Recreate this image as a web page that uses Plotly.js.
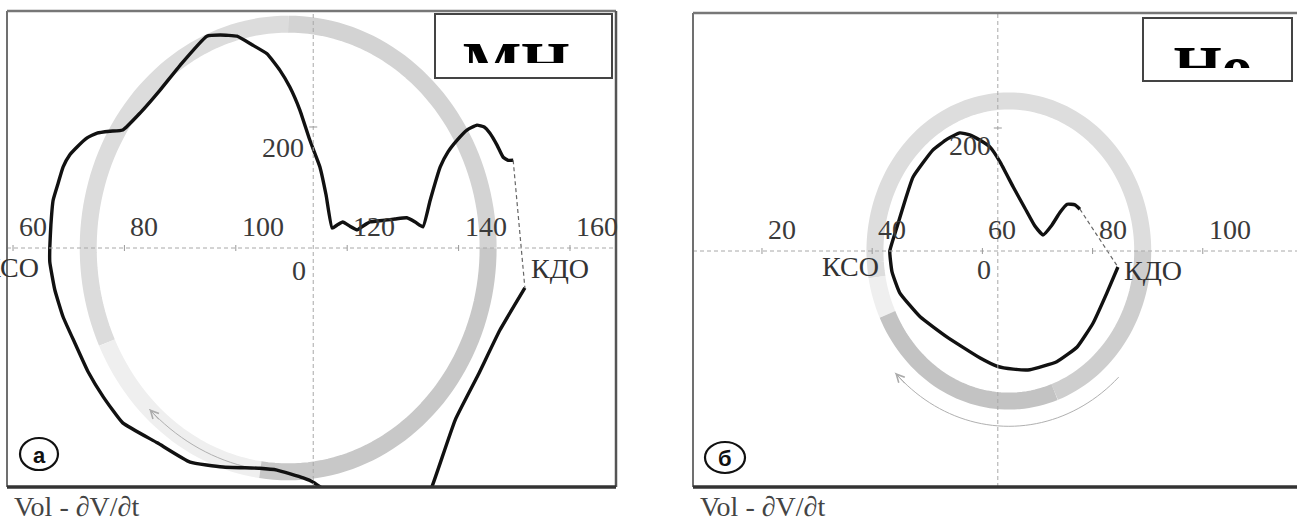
<!DOCTYPE html>
<html><head><meta charset="utf-8">
<script src="https://cdn.plot.ly/plotly-3.0.1.min.js"></script>
<style>html,body{margin:0;padding:0;background:#fff;overflow:hidden}#chart{width:1297px;height:523px}</style>
</head><body><div id="chart"></div>
<script>
// ---- data (volume, dV/dt) ----
const volA = [151.9,147.4,143.5,139.4,135.2,131.3,125.9,119.6,113.9,112.1,107.4,104.3,97.7,91.8,85.9,79.7,76.2,73.5,71.1,69.0,67.5,66.6,66.6,66.8,67.2,68.1,69.0,70.2,71.5,73.3,75.1,77.4,79.7,82.8,86.4,90.0,94.8,97.2,100.2,102.9,105.6,107.9,109.7,111.5,113.3,115.1,116.2,117.3,118.2,119.2,120.5,121.8,122.8,124.1,126.8,128.6,130.7,132.2,133.6,134.9,136.7,138.1,139.7,141.5,143.3,144.6,145.6,146.9,148.0,148.9,149.8];
const dvdtA = [-66,-136,-210,-284,-395,-474,-491,-425,-387,-380,-367,-364,-362,-354,-322,-289,-246,-205,-157,-114,-69,-23,0,38,79,107,134,154,167,182,190,193,195,223,261,302,350,352,350,336,321,294,266,228,178,134,88,33,38,43,36,30,36,43,46,48,50,43,35,79,134,159,178,195,203,200,190,170,150,145,145];
const volB = [84.6,82.6,80.1,77.2,73.5,68.6,65.6,62.6,59.6,53.6,48.7,45.0,43.6,43.2,44.5,46.0,47.4,51.0,53.6,55.9,57.7,59.6,61.4,63.2,65.6,67.7,69.5,71.0,72.6,74.1,75.4,76.8,77.7];
const dvdtB = [-26,-68,-117,-156,-180,-193,-192,-187,-174,-140,-107,-68,-34,0,39,83,120,164,182,192,189,180,169,145,104,70,41,26,42,63,76,75,68];
const xTicksA = [60,80,100,120,140,160];
const xTicksB = [20,40,60,80,100];
const yTickVals = [0,200];
const crossVolA = 113.9, crossVolB = 62.8;
const labelA = 'МН', labelB = 'Но';
const panelLetters = ['а','б'];
const axisLabel = 'Vol - ∂V/∂t';
const ksoText = 'КСО', kdoText = 'КДО';

const W = 1297, H = 523;
const fx = px => px / W, fy = py => 1 - py / H;
const serif = 'Liberation Serif, Times New Roman, serif';

function arcPath(cx, cy, rx, ry, a0, a1) {
  const n = Math.max(2, Math.ceil(Math.abs(a1 - a0) / 2));
  let s = '';
  for (let i = 0; i <= n; i++) {
    const a = (a0 + (a1 - a0) * i / n) * Math.PI / 180;
    s += (i ? 'L' : 'M') + (cx + rx * Math.cos(a)).toFixed(3) + ',' + (cy + ry * Math.sin(a)).toFixed(3);
  }
  return s;
}

const panels = [
  {xa:'x', ya:'y', vol:volA, dv:dvdtA, ticks:xTicksA, cross:crossVolA,
   ring:{cx:109.4, cy:0, rx:35.9, ry:370, segs:[[0,90,'#d3d3d3'],[90,205,'#dcdcdc'],[205,262,'#efefef'],[262,360,'#c8c8c8']]},
   arrow:{rx:35.9, ry:370, a0:226, a1:265},
   y200:{xs:-7, ys:-3}, y0:{xs:-5, ys:-5},
   kso:{xs:-9, ys:-19}, kdo:{xs:4, ys:-20},
   frameSides:['l','t','r','b']},
  {xa:'x2', ya:'y2', vol:volB, dv:dvdtB, ticks:xTicksB, cross:crossVolB,
   ring:{cx:64.8, cy:0, rx:24.3, ry:244, segs:[[0,190,'#dddddd'],[190,205,'#efefef'],[205,290,'#c3c3c3'],[290,360,'#cecece']]},
   arrow:{rx:28.7, ry:285, a0:224, a1:314},
   y200:{xs:-5, ys:0}, y0:{xs:-5, ys:-1},
   kso:{xs:-9, ys:-15}, kdo:{xs:4, ys:-19},
   frameSides:['l','t','b']}
];

const traces = [];
const shapes = [];
const annotations = [];

panels.forEach((p, k) => {
  const n = p.vol.length;
  traces.push({x:p.vol, y:p.dv, xaxis:p.xa, yaxis:p.ya, mode:'lines',
    line:{color:'#111', width:3.4, shape:'spline', smoothing:0.4}, hoverinfo:'skip'});
  traces.push({x:[p.vol[n-1], p.vol[0]], y:[p.dv[n-1], p.dv[0]], xaxis:p.xa, yaxis:p.ya, mode:'lines',
    line:{color:'#666', width:1.2, dash:'4px,3px'}, hoverinfo:'skip'});

  p.ring.segs.forEach(s => shapes.push({type:'path', xref:p.xa, yref:p.ya, layer:'below',
    path:arcPath(p.ring.cx, p.ring.cy, p.ring.rx, p.ring.ry, s[0], s[1]),
    line:{color:s[2], width:17}}));
  shapes.push({type:'path', xref:p.xa, yref:p.ya, layer:'below',
    path:arcPath(p.ring.cx, p.ring.cy, p.arrow.rx, p.arrow.ry, p.arrow.a0, p.arrow.a1),
    line:{color:'#b0b0b0', width:1}});
  const ah = p.arrow.a0 * Math.PI / 180;
  annotations.push({xref:p.xa, yref:p.ya, x:p.ring.cx + p.arrow.rx * Math.cos(ah), y:p.ring.cy + p.arrow.ry * Math.sin(ah),
    ax:11, ay:12, text:'', showarrow:true, arrowhead:5, arrowsize:1.6, arrowwidth:1, arrowcolor:'#aaa'});

  const xd = p.xa + ' domain', yd = p.ya + ' domain';
  shapes.push({type:'line', xref:xd, yref:p.ya, x0:0, x1:1, y0:0, y1:0, line:{color:'#a8a8a8', width:1, dash:'4px,3px'}});
  shapes.push({type:'line', xref:p.xa, yref:yd, x0:p.cross, x1:p.cross, y0:0, y1:1, line:{color:'#a8a8a8', width:1, dash:'4px,3px'}});
  p.ticks.forEach(t => {
    shapes.push({type:'line', xref:p.xa, yref:p.ya, x0:t, x1:t, ysizemode:'pixel', yanchor:0, y0:-3, y1:3, line:{color:'#999', width:1}});
    annotations.push({xref:p.xa, yref:p.ya, x:t, y:0, text:String(t), showarrow:false, xanchor:'left', yanchor:'bottom',
      xshift:4, yshift:4, font:{family:serif, size:28, color:'#3a3a3a'}});
  });
  shapes.push({type:'line', xref:p.xa, yref:p.ya, xsizemode:'pixel', xanchor:p.cross, x0:-4, x1:4, y0:200, y1:200, line:{color:'#999', width:1}});
  yTickVals.forEach(v => {
    const o = v === 0 ? p.y0 : p.y200;
    annotations.push({xref:p.xa, yref:p.ya, x:p.cross, y:v, text:String(v), showarrow:false, xanchor:'right', yanchor:'top',
      xshift:o.xs, yshift:o.ys, font:{family:serif, size:28, color:'#3a3a3a'}});
  });
  annotations.push({xref:p.xa, yref:p.ya, x:Math.min(...p.vol), y:0, text:ksoText, showarrow:false, xanchor:'right', yanchor:'middle',
    xshift:p.kso.xs, yshift:p.kso.ys, font:{family:serif, size:28, color:'#333'}});
  annotations.push({xref:p.xa, yref:p.ya, x:p.vol[0], y:0, text:kdoText, showarrow:false, xanchor:'left', yanchor:'middle',
    xshift:p.kdo.xs, yshift:p.kdo.ys, font:{family:serif, size:28, color:'#333'}});

  const fr = {l:[0,0,0,1,'#707070',2], r:[1,1,0,1,'#555',2.5], t:[0,1,1,1,'#777',2.5], b:[0,1,0,0,'#333',3.5]};
  p.frameSides.forEach(sd => {
    const f = fr[sd];
    shapes.push({type:'line', xref:xd, yref:yd, x0:f[0], x1:f[1], y0:f[2], y1:f[3], line:{color:f[4], width:f[5]}});
  });
});

// circled panel letters
[[39,454,19,16],[725,457.5,20,15.5]].forEach((c, k) => {
  shapes.push({type:'circle', xref:'paper', yref:'paper', x0:fx(c[0]-c[2]), x1:fx(c[0]+c[2]), y0:fy(c[1]+c[3]), y1:fy(c[1]-c[3]),
    line:{color:'#111', width:2.2}});
  annotations.push({xref:'paper', yref:'paper', x:fx(c[0]), y:fy(c[1]+1), text:'<b>' + panelLetters[k] + '</b>', showarrow:false,
    xanchor:'center', yanchor:'middle', font:{family:'Liberation Sans, Arial, sans-serif', size:22, color:'#111'}});
});

// bottom axis captions
[[12,506],[698,506]].forEach(c => annotations.push({xref:'paper', yref:'paper', x:fx(c[0]), y:fy(c[1]), text:axisLabel,
  showarrow:false, xanchor:'left', yanchor:'middle', font:{family:serif, size:28, color:'#444'}}));

// label boxes: the big bold text is clipped by a small subplot so only its upper part shows, as in the source
const boxes = [
  {t:labelA, xa:'x3', ya:'y3', win:[437,16,611,63], cx:516, anchorPy:68.5, box:[435,14,612,78]},
  {t:labelB, xa:'x4', ya:'y4', win:[1145,20,1290,68], cx:1213, anchorPy:72.5, box:[1143,18,1292,81]}
];
const extraAxes = {};
boxes.forEach(b => {
  const w = b.win;
  const xk = 'xaxis' + b.xa.slice(1), yk = 'yaxis' + b.ya.slice(1);
  extraAxes[xk] = {domain:[fx(w[0]), fx(w[2])], range:[w[0], w[2]], anchor:b.ya, visible:false, fixedrange:true};
  extraAxes[yk] = {domain:[fy(w[3]), fy(w[1])], range:[0, w[3]-w[1]], anchor:b.xa, visible:false, fixedrange:true};
  traces.push({x:[b.cx], y:[w[3]-b.anchorPy], xaxis:b.xa, yaxis:b.ya, mode:'text', text:['<b>' + b.t + '</b>'],
    textposition:'middle center', cliponaxis:true, hoverinfo:'skip',
    textfont:{family:serif, size:62, color:'#000', weight:'bold'}});
  const bx = b.box;
  shapes.push({type:'rect', xref:'paper', yref:'paper', layer:'above', x0:fx(bx[0]), x1:fx(bx[2]), y0:fy(bx[3]), y1:fy(bx[1]),
    line:{color:'#444', width:2}, fillcolor:'rgba(0,0,0,0)'});
});

const layout = Object.assign({
  width:W, height:H, margin:{l:0, r:0, t:0, b:0}, paper_bgcolor:'#fff', plot_bgcolor:'rgba(0,0,0,0)', showlegend:false,
  font:{family:serif},
  xaxis:{domain:[fx(7), fx(616)], range:[58.92,168.26], visible:false, fixedrange:true},
  yaxis:{domain:[fy(487), fy(11)], range:[-395,391.7], visible:false, fixedrange:true},
  xaxis2:{domain:[fx(693), 1], range:[7.48,117.1], anchor:'y2', visible:false, fixedrange:true},
  yaxis2:{domain:[fy(487), fy(13)], range:[-383.7,387], anchor:'x2', visible:false, fixedrange:true},
  shapes:shapes, annotations:annotations
}, extraAxes);
Plotly.newPlot('chart', traces, layout, {displayModeBar:false, staticPlot:true});
</script></body></html>
